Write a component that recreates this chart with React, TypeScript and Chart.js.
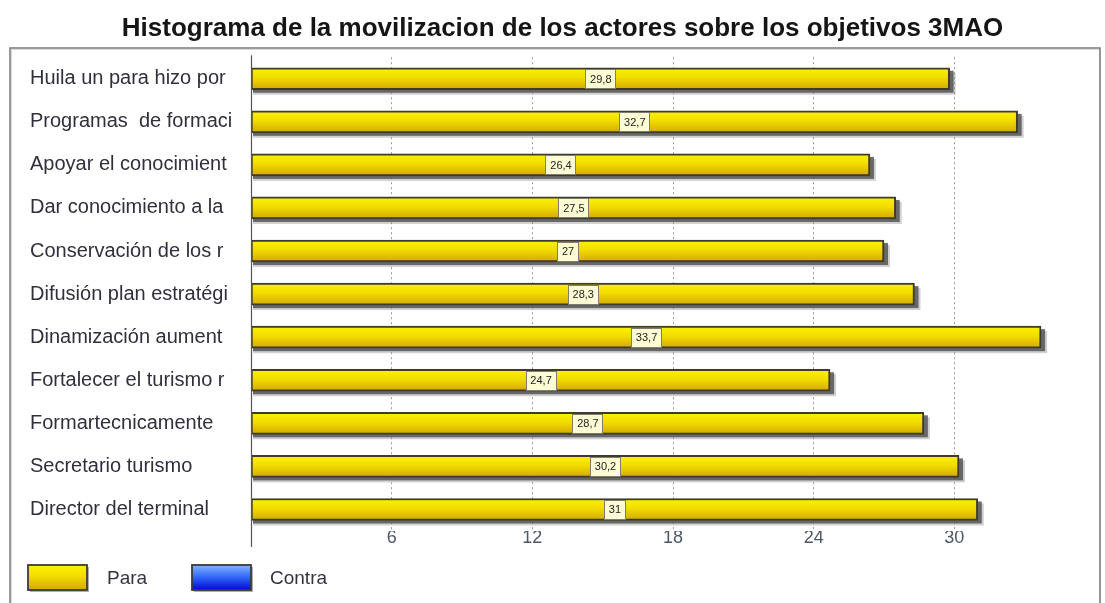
import React, { useEffect, useRef } from "react";
import { Chart, registerables } from "chart.js";

Chart.register(...registerables);

const titleText = "Histograma de la movilizacion de los actores sobre los objetivos 3MAO";
const categories = [
  "Huila un para hizo por",
  "Programas  de formaci",
  "Apoyar el conocimient",
  "Dar conocimiento a la",
  "Conservación de los r",
  "Difusión plan estratégi",
  "Dinamización aument",
  "Fortalecer el turismo r",
  "Formartecnicamente",
  "Secretario turismo",
  "Director del terminal",
];
const paraValues = [29.8, 32.7, 26.4, 27.5, 27, 28.3, 33.7, 24.7, 28.7, 30.2, 31];
const contraValues = [0, 0, 0, 0, 0, 0, 0, 0, 0, 0, 0];
const tickValues = [6, 12, 18, 24, 30];
const seriesNames = ["Para", "Contra"];

const FONT = "'Liberation Sans', Arial, sans-serif";

function yellowGrad(ctx: CanvasRenderingContext2D, top: number, bottom: number) {
  const g = ctx.createLinearGradient(0, top, 0, bottom);
  g.addColorStop(0, "#fbf200");
  g.addColorStop(0.45, "#f2dc00");
  g.addColorStop(1, "#d2a800");
  return g;
}
function blueGrad(ctx: CanvasRenderingContext2D, top: number, bottom: number) {
  const g = ctx.createLinearGradient(0, top, 0, bottom);
  g.addColorStop(0, "#80b4ff");
  g.addColorStop(0.5, "#3064f4");
  g.addColorStop(1, "#0008d8");
  return g;
}

const BAR_H = 22;

export default function App() {
  const ref = useRef<HTMLCanvasElement>(null);
  useEffect(() => {
    const canvas = ref.current!;
    const framePlugin = {
      id: "frame",
      beforeDraw(chart: any) {
        const c = chart.ctx;
        c.save();
        c.fillStyle = "#ffffff";
        c.fillRect(0, 0, chart.width, chart.height);
        c.strokeStyle = "#d8d8d8";
        c.lineWidth = 1;
        c.strokeRect(11.5, 49.5, 1088, 620);
        c.strokeStyle = "#7a7a7a";
        c.lineWidth = 1.5;
        c.strokeRect(10, 48, 1090, 620);
        c.restore();
      },
      afterDraw(chart: any) {
        const c = chart.ctx;
        const a = chart.chartArea;
        c.save();
        c.strokeStyle = "#555";
        c.lineWidth = 1.2;
        c.beginPath();
        c.moveTo(a.left + 0.5, a.top - 2);
        c.lineTo(a.left + 0.5, a.bottom + 16);
        c.stroke();
        const items = chart.data.datasets.map((d: any, i: number) => ({ label: d.label, i }));
        const boxes = [
          { x: 28, tx: 107 },
          { x: 192, tx: 270 },
        ];
        const by = 565;
        const bh = 25;
        const bw = 59;
        items.forEach((it: any, k: number) => {
          const b = boxes[k];
          c.fillStyle = "rgba(110,110,110,0.55)";
          c.fillRect(b.x + 2, by + 2, bw, bh);
          c.fillStyle = it.i === 0 ? yellowGrad(c, by, by + bh) : blueGrad(c, by, by + bh);
          c.fillRect(b.x, by, bw, bh);
          c.strokeStyle = "#3a3a3a";
          c.lineWidth = 1.8;
          c.strokeRect(b.x, by, bw, bh);
          c.fillStyle = "#34343f";
          c.font = `19px ${FONT}`;
          c.textAlign = "left";
          c.textBaseline = "middle";
          c.fillText(it.label, b.tx, by + bh / 2 + 1);
        });
        c.restore();
      },
    };
    const barPlugin = {
      id: "barfx",
      beforeDatasetsDraw(chart: any) {
        const c = chart.ctx;
        const meta = chart.getDatasetMeta(0);
        c.save();
        meta.data.forEach((el: any) => {
          const p = el.getProps(["x", "y", "base", "height"], true);
          const left = Math.min(p.x, p.base);
          const w = Math.abs(p.x - p.base);
          c.fillStyle = "rgba(150,150,150,0.45)";
          c.fillRect(left + 2, p.y - p.height / 2 + 5, w + 4, p.height);
          c.fillStyle = "rgba(85,85,85,0.85)";
          c.fillRect(left + 2, p.y - p.height / 2 + 3, w + 2, p.height);
        });
        c.restore();
      },
      afterDatasetsDraw(chart: any) {
        const c = chart.ctx;
        c.save();
        const meta = chart.getDatasetMeta(0);
        const data = chart.data.datasets[0].data as number[];
        c.font = `11px ${FONT}`;
        c.textAlign = "center";
        c.textBaseline = "middle";
        meta.data.forEach((el: any, i: number) => {
          const p = el.getProps(["x", "y", "base"], true);
          const cx = (p.x + p.base) / 2;
          const txt = String(data[i]).replace(".", ",");
          const w = Math.round(c.measureText(txt).width + 9);
          const h = 19;
          const bx = Math.round(cx - w / 2);
          const byy = Math.round(p.y - h / 2);
          c.fillStyle = "#fbfbd4";
          c.fillRect(bx, byy, w, h);
          c.strokeStyle = "#7e7e70";
          c.lineWidth = 1;
          c.strokeRect(bx + 0.5, byy + 0.5, w, h);
          c.fillStyle = "#222";
          c.fillText(txt, cx + 0.5, p.y + 1);
        });
        c.restore();
      },
    };
    const chart = new Chart(canvas, {
      type: "bar",
      data: {
        labels: categories,
        datasets: [
          {
            label: seriesNames[0],
            data: paraValues,
            backgroundColor: (ctx: any) => {
              const y = ctx.chart.scales?.y;
              if (!y || ctx.dataIndex === undefined) return "#f0d800";
              const cy = y.getPixelForValue(ctx.dataIndex);
              if (!Number.isFinite(cy)) return "#f0d800";
              return yellowGrad(ctx.chart.ctx, cy - BAR_H / 2, cy + BAR_H / 2);
            },
            borderColor: "#3e3b2c",
            borderWidth: 2,
            borderSkipped: false,
            barThickness: BAR_H,
          },
          {
            label: seriesNames[1],
            data: contraValues,
            backgroundColor: "rgba(0,0,0,0)",
            borderWidth: 0,
            barThickness: BAR_H,
          },
        ],
      },
      options: {
        indexAxis: "y",
        responsive: false,
        animation: false,
        grouped: false,
        layout: { padding: { left: 30, right: 10, top: 0, bottom: 52 } },
        plugins: {
          legend: { display: false },
          tooltip: { enabled: false },
          title: {
            display: true,
            text: titleText,
            color: "#151515",
            font: { family: FONT, size: 26, weight: "bold" },
            padding: { top: 13, bottom: 13 },
          },
        },
        scales: {
          x: {
            min: 0,
            max: 36,
            afterBuildTicks: (s: any) => {
              s.ticks = tickValues.map((v) => ({ value: v }));
            },
            afterFit: (s: any) => {
              s.height = 20;
            },
            ticks: {
              color: "#4c5868",
              font: { family: FONT, size: 18 },
              padding: -4,
            },
            grid: {
              color: "#9a9a9a",
              drawTicks: false,
            },
            border: { display: false, dash: [2, 3] },
          },
          y: {
            afterFit: (s: any) => {
              s.width = 221;
            },
            ticks: {
              crossAlign: "far",
              color: "#30303c",
              font: { family: FONT, size: 20 },
            },
            grid: { display: false, drawTicks: false },
            border: { display: false },
          },
        },
      } as any,
      plugins: [framePlugin, barPlugin],
    });
    return () => chart.destroy();
  }, []);
  return (
    <div style={{ position: "fixed", left: 0, top: 0, width: 1105, height: 603, background: "#fff" }}>
      <canvas ref={ref} width={1105} height={603} />
    </div>
  );
}
